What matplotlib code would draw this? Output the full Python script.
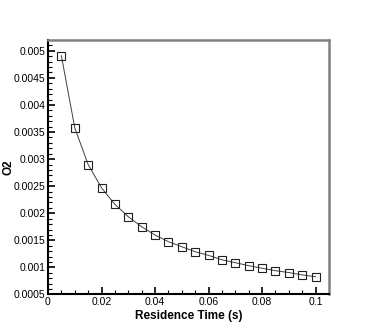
import numpy as np
import matplotlib
matplotlib.use('Agg')
import matplotlib.pyplot as plt
from matplotlib.ticker import MultipleLocator, FuncFormatter

plt.rcParams['font.family'] = ['Liberation Sans', 'DejaVu Sans']

# residence time (s) and O2 mass fraction
res_time = [0.005, 0.01, 0.015, 0.02, 0.025, 0.03, 0.035, 0.04, 0.045, 0.05,
            0.055, 0.06, 0.065, 0.07, 0.075, 0.08, 0.085, 0.09, 0.095, 0.1]
o2 = [0.00491, 0.00358, 0.00290, 0.00247, 0.002165, 0.001936, 0.001751, 0.001598,
      0.001475, 0.001382, 0.001290, 0.001222, 0.001140, 0.001087, 0.001032,
      0.000985, 0.000939, 0.000905, 0.000862, 0.000828]

fig = plt.figure(figsize=(3.74, 3.32), dpi=100)
ax = fig.add_axes([0.1283, 0.113, 0.7514, 0.7665])

ax.plot(res_time, o2, color='#404040', linewidth=0.7, marker='s', markersize=5.2,
        markerfacecolor='none', markeredgecolor='#202020', markeredgewidth=0.8)

ax.set_xlim(0, 0.105)
ax.set_ylim(0.0005, 0.0052)
ax.xaxis.set_major_locator(MultipleLocator(0.02))
ax.xaxis.set_minor_locator(MultipleLocator(0.005))
ax.yaxis.set_major_locator(MultipleLocator(0.0005))
ax.yaxis.set_minor_locator(MultipleLocator(0.0001))
fmt = FuncFormatter(lambda v, p: '%g' % round(v, 6))
ax.xaxis.set_major_formatter(fmt)
ax.yaxis.set_major_formatter(fmt)

ax.tick_params(which='both', direction='in', top=False, right=False,
               labelsize=7.5, pad=2, color='black')
ax.tick_params(which='major', length=5, width=1.2)
ax.tick_params(which='minor', length=3, width=0.8)

for pos in ['left', 'bottom']:
    ax.spines[pos].set_linewidth(1.5)
    ax.spines[pos].set_color('black')
for pos in ['right', 'top']:
    ax.spines[pos].set_linewidth(1.8)
    ax.spines[pos].set_color('#808080')

ax.set_xlabel('Residence Time (s)', fontsize=8.5, fontweight='bold', labelpad=2)
ax.set_ylabel('O2', fontsize=8.5, fontweight='bold')
ax.yaxis.set_label_coords(-0.12, 0.5)

fig.savefig('out.png', dpi=100)
